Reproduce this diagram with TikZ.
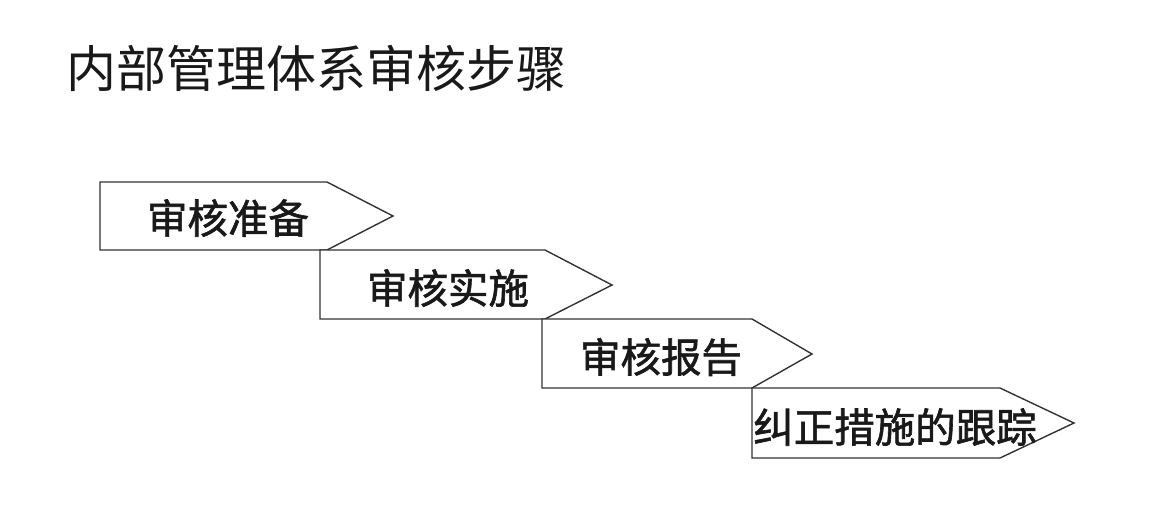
\documentclass[tikz,border=0pt]{standalone}
\usepackage{fontspec}
\newfontfamily\cjk{Noto Sans CJK SC}
\newfontfamily\cjkb[FakeBold=1.5]{Noto Sans CJK SC}
\begin{document}
\begin{tikzpicture}[x=1pt,y=-1pt,
  stepshape/.style={draw=black!80, line width=1.4pt, fill=white, line join=miter},
  steptext/.style={font=\cjkb\fontsize{40.5}{40.5}\selectfont, inner sep=0pt, text=black!90},
  titletext/.style={font=\cjk\fontsize{50}{50}\selectfont, inner sep=0pt, text=black!90}]
\useasboundingbox (0,0) rectangle (1152,512);
\node[titletext, anchor=west] (title) at (66,68) {内部管理体系审核步骤};
% step 1
\draw[stepshape] (100,182) -- (327,182) -- (393,216) -- (327,250) -- (100,250) -- cycle;
\node[steptext] (s1) at (228,218) {审核准备};
% step 2
\draw[stepshape] (320,250) -- (545,250) -- (612,285) -- (545,319) -- (320,319) -- cycle;
\node[steptext] (s2) at (448,288) {审核实施};
% step 3
\draw[stepshape] (542,319) -- (752,319) -- (812,354) -- (752,388) -- (542,388) -- cycle;
\node[steptext] (s3) at (661,357) {审核报告};
% step 4
\draw[stepshape] (752,388) -- (1000,388) -- (1074,423) -- (1000,458) -- (752,458) -- cycle;
\node[steptext] (s4) at (895,427) {纠正措施的跟踪};
\end{tikzpicture}
\end{document}
